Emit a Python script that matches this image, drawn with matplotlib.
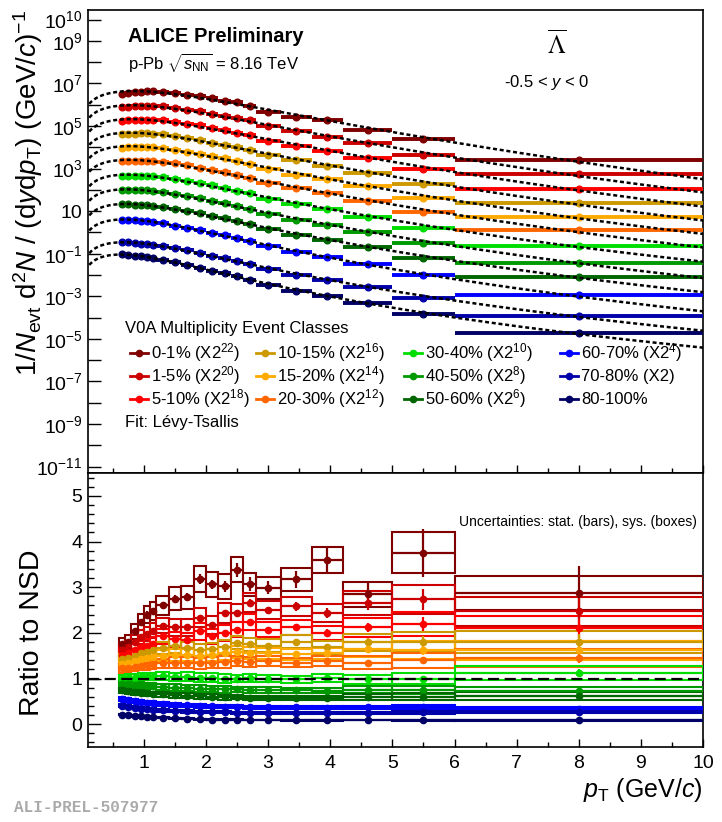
import numpy as np
import matplotlib
matplotlib.use("Agg")
import matplotlib.pyplot as plt
from matplotlib.lines import Line2D
from matplotlib.patches import Rectangle
from matplotlib.ticker import FixedLocator, FixedFormatter, MultipleLocator, NullLocator

plt.rcParams['font.family'] = ['Liberation Sans', 'DejaVu Sans']
plt.rcParams['mathtext.fontset'] = 'custom'
plt.rcParams['mathtext.rm'] = 'Liberation Sans'
plt.rcParams['mathtext.it'] = 'Liberation Sans:italic'
plt.rcParams['mathtext.bf'] = 'Liberation Sans:bold'

# pT binning (GeV/c)
pt_edges = [0.6, 0.7, 0.8, 0.9, 1.0, 1.1, 1.2, 1.4, 1.6, 1.8, 2.0, 2.2, 2.4, 2.6,
            2.8, 3.2, 3.7, 4.2, 5.0, 6.0, 10.0]
pt_centers = [0.65, 0.75, 0.85, 0.95, 1.05, 1.15, 1.3, 1.5, 1.7, 1.9, 2.1, 2.3, 2.5,
              2.7, 3.0, 3.45, 3.95, 4.6, 5.5, 8.0]

# NSD reference spectrum 1/Nevt d2N/(dy dpT)
nsd_yield = [0.44, 0.45, 0.45, 0.445, 0.435, 0.415, 0.375, 0.315, 0.255, 0.20, 0.155,
             0.12, 0.09, 0.066, 0.038, 0.021, 0.0125, 0.0055, 0.0016, 0.00021]

# ratio to NSD for each V0A multiplicity class
ratio_0_1 = [1.75, 1.81, 2.03, 2.23, 2.40, 2.48, 2.60, 2.75, 2.78, 3.17, 3.06, 3.02, 3.38,
             3.06, 2.99, 3.17, 3.60, 2.84, 3.75, 2.88]
ratio_1_5 = [1.62, 1.68, 1.80, 1.90, 1.98, 2.05, 2.16, 2.12, 2.12, 2.33, 2.18, 2.44, 2.44,
             2.66, 2.50, 2.58, 2.44, 2.66, 2.73, 2.47]
ratio_5_10 = [1.52, 1.56, 1.62, 1.68, 1.72, 1.76, 1.92, 1.86, 1.84, 2.03, 1.92, 2.00, 2.07,
              2.23, 2.07, 2.12, 2.00, 2.12, 2.20, 2.10]
ratio_10_15 = [1.42, 1.45, 1.50, 1.55, 1.58, 1.62, 1.66, 1.72, 1.66, 1.62, 1.64, 1.70, 1.78,
               1.75, 1.72, 1.81, 1.68, 1.79, 1.80, 1.80]
ratio_15_20 = [1.32, 1.35, 1.38, 1.42, 1.45, 1.47, 1.50, 1.52, 1.52, 1.50, 1.52, 1.55, 1.58,
               1.56, 1.55, 1.53, 1.55, 1.64, 1.62, 1.62]
ratio_20_30 = [1.22, 1.24, 1.26, 1.28, 1.30, 1.31, 1.33, 1.35, 1.34, 1.33, 1.34, 1.36, 1.38,
               1.37, 1.38, 1.35, 1.38, 1.35, 1.40, 1.45]
ratio_30_40 = [1.00, 1.02, 1.02, 1.03, 1.04, 1.04, 1.05, 1.03, 1.04, 1.02, 1.02, 1.00, 1.00,
               1.01, 1.00, 0.98, 1.01, 0.98, 1.00, 1.12]
ratio_40_50 = [0.88, 0.87, 0.86, 0.85, 0.84, 0.83, 0.82, 0.80, 0.79, 0.78, 0.77, 0.76, 0.76,
               0.75, 0.75, 0.74, 0.73, 0.75, 0.74, 0.72]
ratio_50_60 = [0.74, 0.72, 0.70, 0.69, 0.68, 0.66, 0.65, 0.63, 0.62, 0.61, 0.60, 0.59, 0.59,
               0.58, 0.58, 0.58, 0.57, 0.60, 0.60, 0.62]
ratio_60_70 = [0.55, 0.53, 0.51, 0.49, 0.47, 0.46, 0.44, 0.42, 0.41, 0.40, 0.39, 0.38, 0.38,
               0.37, 0.37, 0.37, 0.36, 0.37, 0.38, 0.33]
ratio_70_80 = [0.40, 0.38, 0.36, 0.34, 0.33, 0.32, 0.30, 0.29, 0.28, 0.27, 0.26, 0.26, 0.25,
               0.25, 0.25, 0.24, 0.24, 0.25, 0.26, 0.27]
ratio_80_100 = [0.21, 0.20, 0.18, 0.17, 0.16, 0.15, 0.14, 0.13, 0.12, 0.11, 0.10, 0.10, 0.095,
                0.09, 0.09, 0.085, 0.085, 0.09, 0.09, 0.09]

ratios = [ratio_0_1, ratio_1_5, ratio_5_10, ratio_10_15, ratio_15_20, ratio_20_30,
          ratio_30_40, ratio_40_50, ratio_50_60, ratio_60_70, ratio_70_80, ratio_80_100]
class_names = ['0-1%', '1-5%', '5-10%', '10-15%', '15-20%', '20-30%', '30-40%',
               '40-50%', '50-60%', '60-70%', '70-80%', '80-100%']
scale_exp = [22, 20, 18, 16, 14, 12, 10, 8, 6, 4, 1, 0]
colors = ['#800000', '#cc0000', '#ff0000', '#cc9900', '#ffaa00', '#ff6600',
          '#00dd00', '#009900', '#006600', '#0000ff', '#0000aa', '#000066']

# relative uncertainties
sys_rel = [0.08, 0.08, 0.08, 0.08, 0.08, 0.08, 0.08, 0.09, 0.09, 0.09, 0.09, 0.09, 0.08,
           0.08, 0.08, 0.08, 0.08, 0.10, 0.12, 0.13]
stat_rel_0_1 = [0.03, 0.03, 0.03, 0.03, 0.03, 0.03, 0.03, 0.03, 0.03, 0.035, 0.035, 0.04,
                0.045, 0.05, 0.05, 0.06, 0.075, 0.10, 0.14, 0.20]
stat_factor = [1.0, 0.6, 0.5, 0.5, 0.45, 0.4, 0.4, 0.4, 0.4, 0.45, 0.45, 0.5]

edges = np.array(pt_edges)
pt = np.array(pt_centers)
lo, hi = edges[:-1], edges[1:]
nsd = np.array(nsd_yield)

# Levy-Tsallis fit (grid search, amplitude solved in log space)
m0 = 1.115683
def levy(x, T, n):
    mt = np.sqrt(x**2 + m0**2)
    return x * (n - 1) * (n - 2) / (n * T * (n * T + m0 * (n - 2))) * (1 + (mt - m0) / (n * T))**(-n)

T_grid = np.linspace(0.12, 0.8, 69)[:, None, None]
n_grid = np.linspace(3.5, 60, 114)[None, :, None]
def fit_levy(y):
    shape = np.log(levy(pt[None, None, :], T_grid, n_grid))
    d = np.log(y)[None, None, :] - shape
    a = d.mean(axis=2, keepdims=True)
    chi = ((d - a)**2).sum(axis=2)
    i, j = np.unravel_index(np.argmin(chi), chi.shape)
    return T_grid[i, 0, 0], n_grid[0, j, 0], np.exp(a[i, j, 0])

fig = plt.figure(figsize=(7.22, 8.22), dpi=100)
W, H = 722.0, 822.0
ax1 = fig.add_axes([88 / W, 1 - 473 / H, 615 / W, 463 / H])
ax2 = fig.add_axes([88 / W, 1 - 747 / H, 615 / W, 274 / H])

xfit = np.linspace(0.12, 10, 400)
for k in range(len(ratios)):
    r = np.array(ratios[k])
    c = colors[k]
    y = r * nsd * 2.0**scale_exp[k]
    ax1.hlines(y, lo, hi, color=c, lw=2.8, zorder=3)
    ax1.plot(pt, y, 'o', ms=4.8, color=c, zorder=3)
    T, n, A = fit_levy(y)
    ax1.plot(xfit, A * levy(xfit, T, n), color='k', lw=1.8, ls=(0, (1.6, 1.1)), zorder=5)

    sys = r * np.array(sys_rel)
    stat = r * np.array(stat_rel_0_1) * stat_factor[k]
    for b in range(len(pt)):
        ax2.add_patch(Rectangle((lo[b], r[b] - sys[b]), hi[b] - lo[b], 2 * sys[b],
                                fill=False, ec=c, lw=1.5, zorder=3))
    ax2.errorbar(pt, r, xerr=[pt - lo, hi - pt], yerr=stat, fmt='o', ms=4.5, color=c,
                 elinewidth=1.6, capsize=0, zorder=4)

ax2.axhline(1.0, color='k', lw=1.6, dashes=(5, 2.5), zorder=6)

# axes cosmetics
for ax in (ax1, ax2):
    ax.set_xlim(0.1, 10)
    ax.xaxis.set_major_locator(MultipleLocator(1))
    ax.xaxis.set_minor_locator(MultipleLocator(0.5))
    ax.tick_params(which='both', direction='in', width=1.0, labelsize=14)
    ax.tick_params(axis='y', which='major', length=9, pad=4)
    ax.tick_params(axis='y', which='minor', length=4.5)
    ax.tick_params(axis='x', which='major', length=6, pad=6)
    ax.tick_params(axis='x', which='minor', length=3.5)
    for s in ax.spines.values():
        s.set_linewidth(1.2)

ax1.set_yscale('log')
ax1.set_ylim(10**-11.3, 10**10.45)
decades = np.arange(-11, 11)
shown = {10, 9, 7, 5, 3, -1, -3, -5, -7, -9, -11}
ylabels = []
for e in decades:
    if e == 1:
        ylabels.append('10')
    elif e in shown:
        ylabels.append(r'$10^{%d}$' % e)
    else:
        ylabels.append('')
ax1.yaxis.set_major_locator(FixedLocator(10.0**decades))
ax1.yaxis.set_major_formatter(FixedFormatter(ylabels))
ax1.yaxis.set_minor_locator(NullLocator())
ax1.tick_params(axis='x', labelbottom=False)

ax2.set_ylim(-0.5, 5.5)
ax2.yaxis.set_major_locator(MultipleLocator(1))
ax2.yaxis.set_minor_locator(MultipleLocator(0.2))

def fx(x):
    return x / W
def fy(y):
    return 1 - y / H

fig.text(fx(28), fy(10),
         r'$1/N_{\rm evt}\ {\rm d}^{2}N\ /\ ({\rm d}y{\rm d}p_{\rm T})\ ({\rm GeV}/c)^{-1}$',
         rotation=90, ha='center', va='top', fontsize=20)
fig.text(fx(32), fy(633), 'Ratio to NSD', rotation=90, ha='center', va='center', fontsize=20.5)
fig.text(fx(703), fy(797), r'$p_{\rm T}$ (GeV/$c$)', ha='right', va='baseline', fontsize=18)
fig.text(fx(14), fy(807), 'ALI-PREL-507977', ha='left', va='center', fontsize=11.5,
         family='Liberation Mono', color='#aaaaaa', fontweight='bold')

fig.text(fx(128), fy(36), 'ALICE Preliminary', ha='left', va='center', fontsize=14.5,
         fontweight='bold')
fig.text(fx(128), fy(63), r'p-Pb $\sqrt{s_{\rm NN}}$ = 8.16 TeV', ha='left', va='center',
         fontsize=12)
fig.text(fx(557), fy(44), r'$\overline{\Lambda}$', ha='center', va='center', fontsize=18,
         math_fontfamily='stix')
fig.text(fx(547), fy(82), r'-0.5 < $y$ < 0', ha='center', va='center', fontsize=12)
fig.text(fx(697), fy(522), 'Uncertainties: stat. (bars), sys. (boxes)', ha='right',
         va='center', fontsize=10)

# legend
fig.text(fx(125), fy(328), 'V0A Multiplicity Event Classes', ha='left', va='center',
         fontsize=12)
col_x = [130, 256, 404, 560]
row_y = [353, 376, 399]
for k in range(len(class_names)):
    x0 = col_x[k // 3]
    yy = fy(row_y[k % 3])
    fig.add_artist(Line2D([fx(x0), fx(x0 + 18)], [yy, yy], color=colors[k], lw=2,
                          transform=fig.transFigure))
    fig.add_artist(Line2D([fx(x0 + 9)], [yy], marker='o', ms=4.5, color=colors[k],
                          transform=fig.transFigure))
    lab = class_names[k]
    if scale_exp[k] > 1:
        lab += r' (X2$^{%d}$)' % scale_exp[k]
    elif scale_exp[k] == 1:
        lab += ' (X2)'
    fig.text(fx(x0 + 21), yy, lab, ha='left', va='center', fontsize=12)
fig.text(fx(125), fy(422), 'Fit: Lévy-Tsallis', ha='left', va='center', fontsize=12)

fig.savefig('out.png', dpi=100)
